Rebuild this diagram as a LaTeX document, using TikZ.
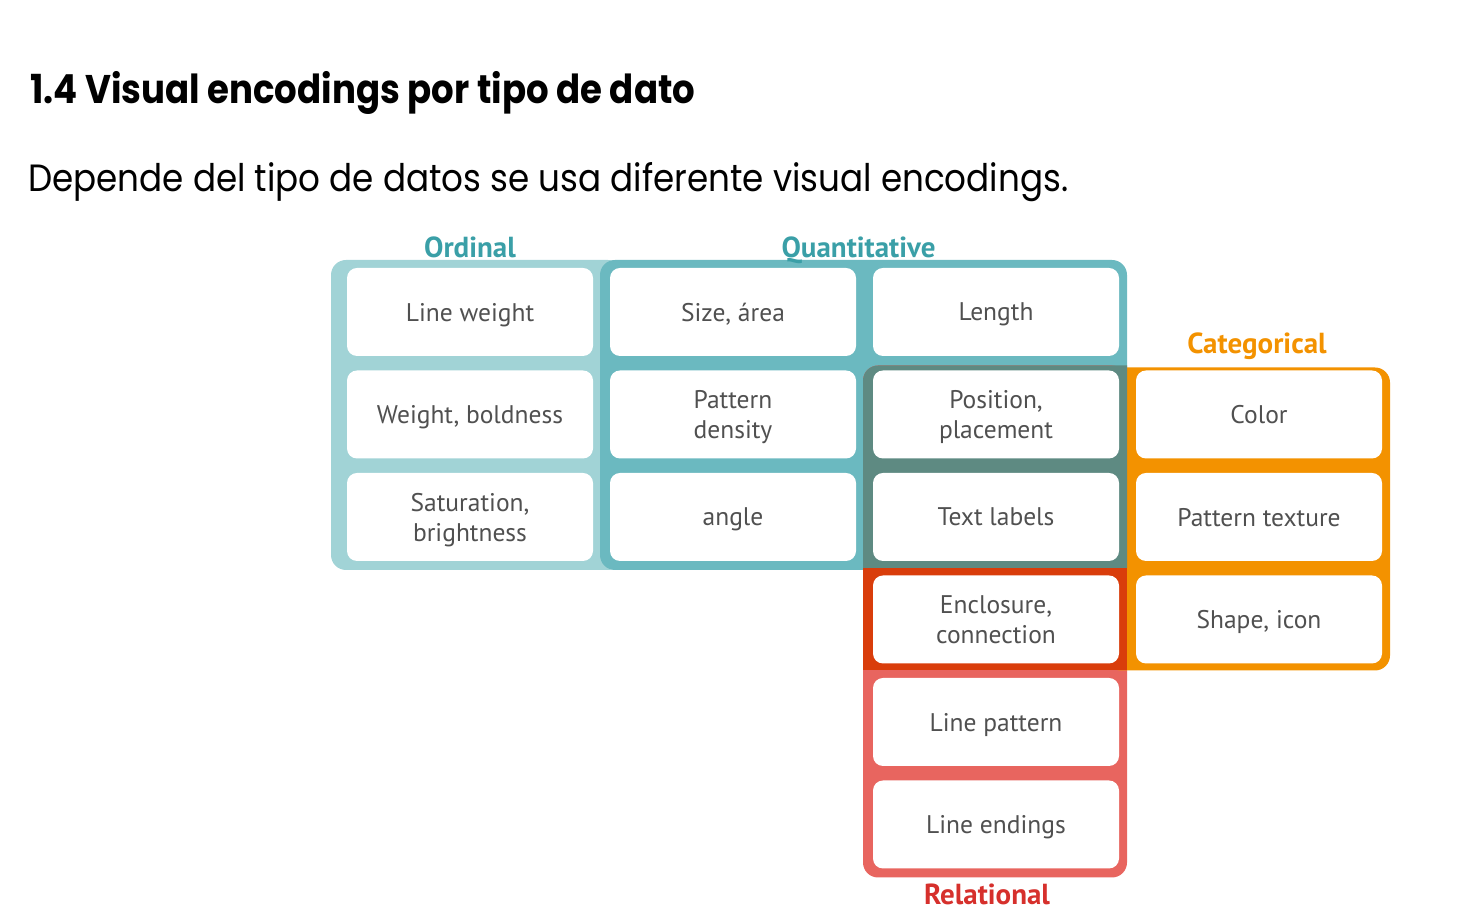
\documentclass[tikz,border=0pt]{standalone}
\usepackage{fontspec}
\setmainfont{PT Sans}
\newfontfamily\headfont{Poppins}
\usetikzlibrary{positioning, calc, backgrounds}

\definecolor{ordfill}{HTML}{A1D3D6}
\definecolor{quantfill}{HTML}{6BB9C0}
\definecolor{slatefill}{HTML}{5E8A82}
\definecolor{relfill}{HTML}{E8655F}
\definecolor{catfill}{HTML}{F39200}
\definecolor{overlapfill}{HTML}{D93D0B}
\definecolor{ordtext}{HTML}{3A9FA7}
\definecolor{reltext}{HTML}{D6302C}
\definecolor{celltext}{HTML}{505050}

\begin{document}
\begin{tikzpicture}[
    x=1pt, y=1pt,
    cell/.style={
        rectangle,
        fill=white,
        rounded corners=10pt,
        minimum width=246pt,
        minimum height=88pt,
        inner sep=2pt,
        outer sep=0pt,
        align=center,
        text depth=0pt,
        text=celltext,
        font=\fontsize{25.5}{30}\selectfont
    },
    group_label/.style={
        font=\fontsize{29}{32}\selectfont\bfseries,
        anchor=base,
        inner sep=0pt
    },
    head_text/.style={
        anchor=base west,
        inner sep=0pt
    }
]
    \useasboundingbox (0,0) rectangle (1476,912);

    % -- Heading --
    \node[head_text] (title) at (30,808)
        {\resizebox{665pt}{\height}{\headfont\bfseries\fontsize{40}{48}\selectfont 1.4 Visual encodings por tipo de dato}};
    \node[head_text] (subtitle) at (28,720)
        {\resizebox{1040pt}{\height}{\headfont\fontsize{38}{46}\selectfont Depende del tipo de datos se usa diferente visual encodings.}};

    % -- Column 1: Ordinal --
    \node[cell] (lineweight) at (470,600) {Line weight};
    \node[cell, below=14.5pt of lineweight] (boldness) {Weight, boldness};
    \node[cell, below=14.5pt of boldness] (saturation) {Saturation,\\ brightness};

    % -- Column 2 --
    \node[cell, right=17pt of lineweight] (size) {Size, área};
    \node[cell, right=17pt of boldness] (density) {Pattern\\ density};
    \node[cell, right=17pt of saturation] (angle) {angle};

    % -- Column 3 --
    \node[cell, right=17pt of size] (length) {Length};
    \node[cell, right=17pt of density] (position) {Position,\\ placement};
    \node[cell, right=17pt of angle] (textlabels) {Text labels};
    \node[cell, below=14.5pt of textlabels] (enclosure) {Enclosure,\\ connection};
    \node[cell, below=14.5pt of enclosure] (linepattern) {Line pattern};
    \node[cell, below=14.5pt of linepattern] (lineendings) {Line endings};

    % -- Column 4: Categorical --
    \node[cell, right=17pt of position] (color) {Color};
    \node[cell, right=17pt of textlabels] (texture) {Pattern texture};
    \node[cell, right=17pt of enclosure] (shape) {Shape, icon};

    % Group backgrounds
    \begin{scope}[on background layer]
        \fill[ordfill, rounded corners=15pt] ($(lineweight.north west)+(-16,8)$) rectangle ($(saturation.south east)+(30,-9)$);
        \fill[quantfill, rounded corners=15pt] ($(size.north west)+(-10,8)$) rectangle ($(textlabels.south east)+(8,-9)$);
        \fill[relfill, rounded corners=15pt] ($(position.north west)+(-10,5)$) rectangle ($(lineendings.south east)+(8,-9)$);
        \fill[catfill, rounded corners=15pt] ($(color.north west)+(-30,3)$) rectangle ($(shape.south east)+(8,-7)$);
        % overlaps
        \begin{scope}
            \clip ($(position.north west)+(-10,5)$) rectangle ($(textlabels.south east)+(8,-7)$);
            \fill[slatefill, rounded corners=15pt] ($(position.north west)+(-10,5)$) rectangle ($(textlabels.south east)+(40,-40)$);
        \end{scope}
        \fill[overlapfill] ($(textlabels.south west)+(-10,-7)$) rectangle ($(enclosure.south east)+(8,-7)$);
    \end{scope}

    % -- Group labels --
    \node[group_label, text=ordtext] (ordlabel) at ($(lineweight.north)+(0,10)$) {Ordinal};
    \node[group_label, text=ordtext] (quantlabel) at ($(size.north east)!0.5!(length.north west)+(-6,10)$) {Quantitative};
    \node[group_label, text=catfill] (catlabel) at ($(color.north)+(-2,17)$) {Categorical};
    \node[group_label, text=reltext] (rellabel) at ($(lineendings.south)+(-9,-36)$) {Relational};

\end{tikzpicture}
\end{document}
